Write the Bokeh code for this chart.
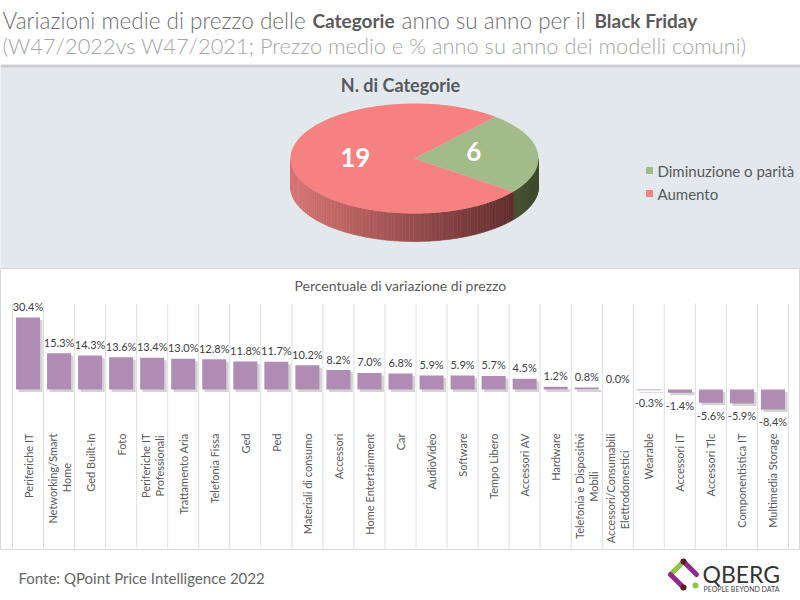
import numpy as np
from bokeh.plotting import figure
from bokeh.layouts import column
from bokeh.models import Range1d
from bokeh.core.properties import value
from bokeh.embed import file_html
from bokeh.resources import INLINE

# ---------------- data ----------------
title_parts = ["Variazioni medie di prezzo delle", "Categorie", "anno su anno per il", "Black Friday"]
subtitle = "(W47/2022vs W47/2021; Prezzo medio e % anno su anno dei modelli comuni)"
pie_title = "N. di Categorie"
pie_labels = ["Diminuzione o parità", "Aumento"]
pie_counts = [6, 19]
bar_title = "Percentuale di variazione di prezzo"
categories = ["Periferiche IT", "Networking/Smart\nHome", "Ged Built-In", "Foto",
              "Periferiche IT\nProfessionali", "Trattamento Aria", "Telefonia Fissa", "Ged",
              "Ped", "Materiali di consumo", "Accessori", "Home Entertainment", "Car",
              "AudioVideo", "Software", "Tempo Libero", "Accessori AV", "Hardware",
              "Telefonia e Dispositivi\nMobili", "Accessori/Consumabili\nElettrodomestici",
              "Wearable", "Accessori IT", "Accessori Tlc", "Componentistica IT",
              "Multimedia Storage"]
variation = [30.4, 15.3, 14.3, 13.6, 13.4, 13.0, 12.8, 11.8, 11.7, 10.2, 8.2, 7.0, 6.8,
             5.9, 5.9, 5.7, 4.5, 1.2, 0.8, 0.0, -0.3, -1.4, -5.6, -5.9, -8.4]
source_text = "Fonte: QPoint Price Intelligence 2022"

FONT = value("Lato")
LIGHT = value("Lato Light")
W = 800


def make_fig(h, xr, yr, bg="#ffffff"):
    p = figure(width=W, height=h, x_range=xr, y_range=yr, output_backend="svg",
               toolbar_location=None, min_border=0, x_axis_type=None, y_axis_type=None,
               background_fill_color=bg, border_fill_color=bg, outline_line_color=None)
    p.grid.visible = False
    return p


def hex2rgb(c):
    c = c.lstrip("#")
    return [int(c[i:i + 2], 16) for i in (0, 2, 4)]


def lerp(c1, c2, f):
    f = min(max(f, 0.0), 1.0)
    a, b = hex2rgb(c1), hex2rgb(c2)
    return "#%02x%02x%02x" % tuple(int(round(a[i] + (b[i] - a[i]) * f)) for i in range(3))


def est_width(s, fs):
    narrow = set("ilIjtf.,:;'| ")
    w = 0.0
    for ch in s:
        if ch in narrow:
            w += 0.27
        elif ch == "r":
            w += 0.36
        elif ch in "mwMW":
            w += 0.8
        elif ch.isupper():
            w += 0.62
        else:
            w += 0.52
    return w * fs


# ---------------- header ----------------
hdr = make_fig(64, Range1d(0, W), Range1d(64, 0))
title_x = [2, 312, 401, 594]
title_bold = [False, True, False, True]
for txt, x, b in zip(title_parts, title_x, title_bold):
    hdr.text(x=[x], y=[20], text=[txt], text_font=FONT if b else LIGHT,
             text_font_style="bold" if b else "normal",
             text_font_size="19px" if b else "22.5px",
             text_color="#5a5a5a" if b else "#6e6e6e", text_align="left", text_baseline="middle")
hdr.text(x=[2], y=[45], text=[subtitle], text_font=LIGHT, text_font_size="21.8px",
         text_color="#a6a6a6", text_align="left", text_baseline="middle")

# ---------------- pie panel ----------------
PH = 204
pie = make_fig(PH, Range1d(0, W), Range1d(PH, 0), bg="#e3e8ec")
pie.quad(left=[0], right=[W], top=[0], bottom=[3], fill_color="#c9cdd1", line_color=None)
pie.text(x=[400], y=[20], text=[pie_title], text_font=FONT, text_font_style="bold",
         text_font_size="18px", text_color="#555a60", text_align="center", text_baseline="middle")

top_colors = ["#a3bb89", "#f58180"]
side_grad = [("#5d7043", "#3f4d2d"), ("#d87474", "#552525")]
cx, cy, rx, ry, depth = 414.0, 94.0, 124.0, 55.0, 28.0
total = float(sum(pie_counts))
theta = np.deg2rad(49.2)
side_xs, side_ys, side_cols = [], [], []
top_xs, top_ys = [], []
mids = []
for cnt, (light, dark) in zip(pie_counts, side_grad):
    t0 = theta
    t1 = theta - 2 * np.pi * cnt / total
    ts = np.linspace(t0, t1, 160)
    top_xs.append([cx] + list(cx + rx * np.cos(ts)))
    top_ys.append([cy] + list(cy - ry * np.sin(ts)))
    for a, b in zip(ts[:-1], ts[1:]):
        m = 0.5 * (a + b)
        if np.sin(m) < 0:
            xa, xb = cx + rx * np.cos(a), cx + rx * np.cos(b)
            ya, yb = cy - ry * np.sin(a), cy - ry * np.sin(b)
            side_xs.append([xa, xb, xb, xa])
            side_ys.append([ya, yb, yb + depth, ya + depth])
            f = (0.5 * (xa + xb) - (cx - rx)) / (2 * rx)
            side_cols.append(lerp(light, dark, f))
    mids.append(0.5 * (t0 + t1))
    theta = t1

pie.patches(xs=side_xs, ys=side_ys, fill_color=side_cols, line_color=side_cols, line_width=0.6)
pie.patches(xs=top_xs, ys=top_ys, fill_color=top_colors, line_color=None)
lab_x = [cx + 0.48 * rx * np.cos(m) for m in mids]
lab_y = [cy - 0.48 * ry * np.sin(m) - 4 for m in mids]
pie.text(x=lab_x, y=lab_y, text=[str(c) for c in pie_counts], text_font=FONT,
         text_font_style="bold", text_font_size="26px", text_color="#ffffff",
         text_align="center", text_baseline="middle")
# legend
leg_y = [106, 129]
pie.scatter(x=[649, 649], y=leg_y, marker="square", size=7, fill_color=top_colors, line_color=None)
pie.text(x=[657, 657], y=leg_y, text=pie_labels, text_font=FONT, text_font_size="15px",
         text_color="#555a60", text_align="left", text_baseline="middle")

# ---------------- bar panel ----------------
BH = 282
zero_px = 121.0
ppu = 2.37
left_px, right_px = 12.0, 788.0
n = len(categories)
upx = (right_px - left_px) / n
xr = Range1d(-0.5 - left_px / upx, n - 0.5 + (W - right_px) / upx)
yr = Range1d(-(BH - zero_px) / ppu, zero_px / ppu)
bars = make_fig(BH, xr, yr)
bars.outline_line_color = "#d9d9d9"

idx = list(range(n))
grid_x = [i - 0.5 for i in range(n + 1)]
g_top = (zero_px - 35) / ppu
g_bot = (zero_px - 280) / ppu
bars.segment(x0=grid_x, y0=[g_bot] * len(grid_x), x1=grid_x, y1=[g_top] * len(grid_x),
             line_color="#dedede", line_width=1)

bw = 24.0 / upx
sh_dx, sh_dy = 2.5 / upx, 2.5 / ppu
bars.vbar(x=[i + sh_dx for i in idx], top=[max(v, 0) - sh_dy for v in variation],
          bottom=[min(v, 0) - sh_dy for v in variation], width=bw,
          fill_color="#808080", fill_alpha=0.35, line_color=None)
bars.vbar(x=idx, top=variation, bottom=0, width=bw, fill_color="#b08cb4", line_color=None)

pos = [(i, v) for i, v in zip(idx, variation) if v >= 0]
neg = [(i, v) for i, v in zip(idx, variation) if v < 0]
bars.text(x=[i for i, v in pos], y=[v + 4.5 / ppu for i, v in pos],
          text=["%.1f%%" % v for i, v in pos], text_font=FONT, text_font_size="11px",
          text_color="#404040", text_align="center", text_baseline="bottom")
bars.text(x=[i for i, v in neg], y=[v - 6 / ppu for i, v in neg],
          text=["%.1f%%" % v for i, v in neg], text_font=FONT, text_font_size="11px",
          text_color="#404040", text_align="center", text_baseline="top")

bars.text(x=[(n - 1) / 2.0], y=[(zero_px - 17) / ppu], text=[bar_title], text_font=FONT,
          text_font_size="14px", text_color="#595959", text_align="center", text_baseline="middle")

cat_y = (zero_px - 165) / ppu
fs = 11
for i, c in enumerate(categories):
    lines = c.split("\n")
    if len(lines) == 1:
        bars.text(x=[i], y=[cat_y], text=[c], angle=np.pi / 2, text_font=FONT,
                  text_font_size="%dpx" % fs, text_color="#595959",
                  text_align="right", text_baseline="middle")
    else:
        off = 7.0 / upx
        bars.text(x=[i - off], y=[cat_y], text=[lines[0]], angle=np.pi / 2, text_font=FONT,
                  text_font_size="%dpx" % fs, text_color="#595959",
                  text_align="right", text_baseline="middle")
        yc = cat_y - est_width(lines[0], fs) / 2 / ppu
        bars.text(x=[i + off], y=[yc], text=[lines[1]], angle=np.pi / 2, text_font=FONT,
                  text_font_size="%dpx" % fs, text_color="#595959",
                  text_align="center", text_baseline="middle")

# ---------------- footer ----------------
FH = 50
foot = make_fig(FH, Range1d(0, W), Range1d(FH, 0))
foot.text(x=[18], y=[27], text=[source_text], text_font=FONT, text_font_size="15px",
          text_color="#666666", text_align="left", text_baseline="middle")
# logo
Lx, Ly = 670, 24
Tx, Ty = 683, 11
Rx, Ry = 696, 24
Bx, By = 683, 37
foot.segment(x0=[Lx, Tx, Lx], y0=[Ly, Ty, Ly], x1=[Tx, Rx, Bx], y1=[Ty, Ry, By],
             line_color=["#8dc63f", "#93278f", "#93278f"], line_width=5, line_cap="round")
foot.scatter(x=[Tx, Bx, Rx - 1], y=[Ty, By, Ry + 11], marker="circle", size=[6, 6, 6],
             fill_color=["#5a1e1e", "#5a1e1e", "#8dc63f"], line_color=None)
foot.text(x=[702], y=[23], text=["QBERG"], text_font=FONT, text_font_size="23px",
          text_color="#333333", text_align="left", text_baseline="middle")
foot.text(x=[703], y=[38], text=["PEOPLE BEYOND DATA"], text_font=FONT, text_font_size="7px",
          text_color="#444444", text_align="left", text_baseline="middle")

layout = column(hdr, pie, bars, foot, spacing=0)
open("out.html", "w").write(file_html(layout, INLINE))
